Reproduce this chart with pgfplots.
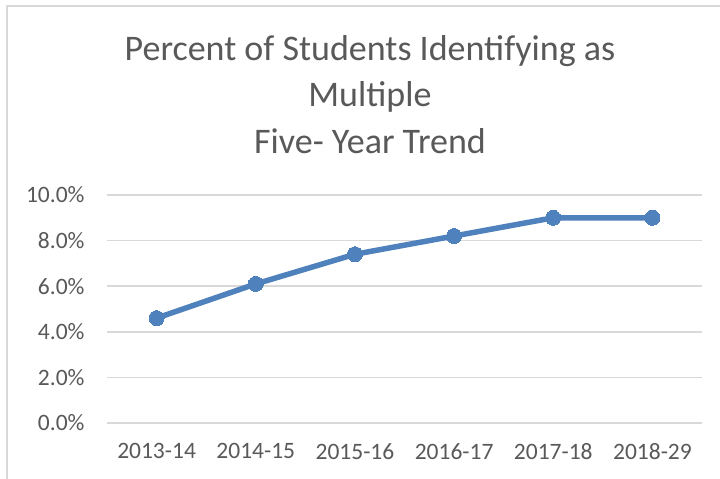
\documentclass[border=0pt]{standalone}
\usepackage{pgfplots}
\pgfplotsset{compat=1.18}
\usepackage{fontspec}
\setmainfont{Carlito}
\definecolor{txt}{HTML}{595959}
\definecolor{gridc}{HTML}{D9D9D9}
\definecolor{linec}{HTML}{4F81BD}
\begin{document}
\begin{tikzpicture}[x=1bp,y=1bp]
\useasboundingbox (0,0) rectangle (720,479);
\fill[white] (0,0) rectangle (720,479);
\draw[gridc, line width=1.5bp] (7,0) -- (7,473) -- (720,473);
\node[anchor=base, text=txt, font=\fontsize{36bp}{43bp}\selectfont] at (370,418) {Percent of Students Identifying as};
\node[anchor=base, text=txt, font=\fontsize{36bp}{43bp}\selectfont] at (370,372) {Multiple};
\node[anchor=base, text=txt, font=\fontsize{36bp}{43bp}\selectfont] at (370,325) {Five- Year Trend};
\begin{axis}[
  at={(107bp,56bp)}, anchor=south west,
  scale only axis, width=595bp, height=228bp,
  xmin=-0.5, xmax=5.5, ymin=0, ymax=10,
  axis line style={draw=none},
  xtick={0,...,5},
  xticklabels={2013-14,2014-15,2015-16,2016-17,2017-18,2018-29},
  ytick={0,2,4,6,8,10},
  yticklabels={0.0\%,2.0\%,4.0\%,6.0\%,8.0\%,10.0\%},
  major tick length=0pt,
  xmajorgrids=false,
  ymajorgrids=true, major grid style={draw=gridc, line width=1.5bp},
  tick label style={text=txt, font=\fontsize{23.5bp}{27bp}\selectfont},
  yticklabel style={xshift=-19bp},
  xticklabel style={yshift=-17bp},
  clip=false,
]
\draw[gridc, line width=2bp] (axis cs:-0.5,0) -- (axis cs:5.5,0);
\addplot[linec, line width=5.5bp, mark=*, mark size=7.5bp, mark options={fill=linec, draw=linec, line width=0pt}]
  coordinates {(0,4.6) (1,6.1) (2,7.4) (3,8.2) (4,9.0) (5,9.0)};
\end{axis}
\end{tikzpicture}
\end{document}
